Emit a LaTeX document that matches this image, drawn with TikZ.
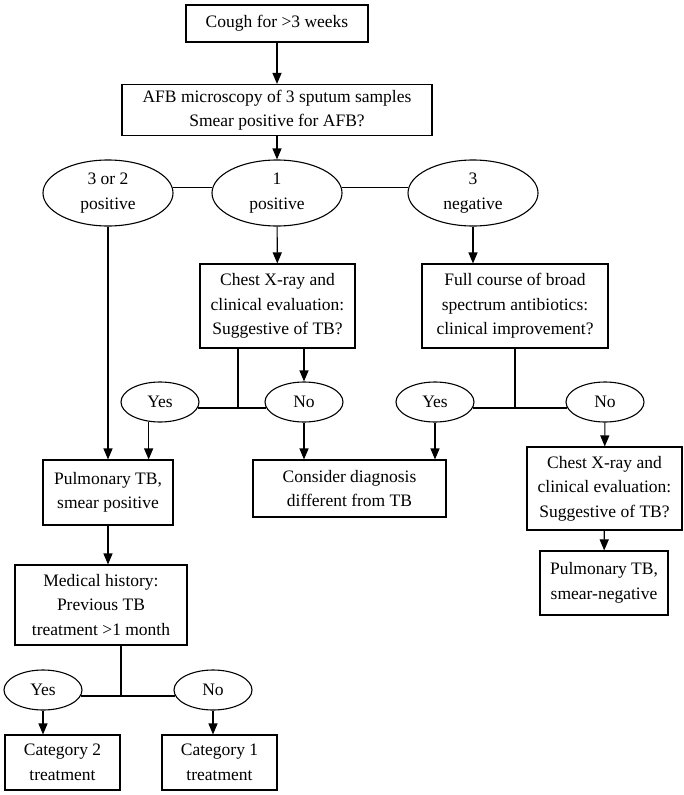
\documentclass[tikz,border=0pt]{standalone}
\usepackage{fontspec}
\setmainfont{Liberation Serif}
\usetikzlibrary{arrows.meta,shapes.geometric}

\tikzset{
	box/.style={draw, line width=1.1pt, align=center, inner sep=0pt},
	oval/.style={draw, line width=1.1pt, ellipse, align=center, inner sep=0pt},
	big/.style={minimum width=130pt, minimum height=66pt},
	small/.style={minimum width=78pt, minimum height=40pt},
}

\begin{document}
\begin{tikzpicture}[x=1pt, y=-1pt, line width=1.1pt, arrows={-Triangle[width=9pt,length=11pt]},
	font=\fontsize{17.5}{24.5}\selectfont]
	\useasboundingbox (0,0) rectangle (684,795);

	\node[box, minimum width=182pt, minimum height=37pt] (Cough) at (277,23.5) {Cough for >3 weeks};
	\node[box, minimum width=310pt, minimum height=51pt] (AFB) at (277,110) {AFB microscopy of 3 sputum samples\\Smear positive for AFB?};

	\node[oval, big] (Pos32) at (108,193) {3 or 2\\positive};
	\node[oval, big] (Pos1) at (277,193) {1\\positive};
	\node[oval, big] (Neg3) at (473,193) {3\\negative};

	\node[box, minimum width=155pt, minimum height=84pt] (Chest) at (277.5,306) {Chest X-ray and\\clinical evaluation:\\Suggestive of TB?};
	\node[box, minimum width=186pt, minimum height=84pt] (Full) at (515,306) {Full course of broad\\spectrum antibiotics:\\clinical improvement?};

	\node[oval, small] (YesA) at (160,402) {Yes};
	\node[oval, small] (NoA) at (304,402) {No};
	\node[oval, small] (YesB) at (435,402) {Yes};
	\node[oval, small] (NoB) at (605,402) {No};

	\node[box, minimum width=130pt, minimum height=65pt] (SmPos) at (108,492.5) {Pulmonary TB,\\smear positive};
	\node[box, minimum width=193pt, minimum height=57pt] (Other) at (349.5,488.5) {Consider diagnosis\\different from TB};
	\node[box, minimum width=155pt, minimum height=83pt] (ChestR) at (604.5,488.5) {Chest X-ray and\\clinical evaluation:\\Suggestive of TB?};
	\node[box, minimum width=128pt, minimum height=64pt] (SmNeg) at (604,583) {Pulmonary TB,\\smear-negative};

	\node[box, minimum width=172pt, minimum height=80pt] (Hist) at (101,605) {Medical history:\\Previous TB\\treatment >1 month};
	\node[oval, small] (YesC) at (43,690) {Yes};
	\node[oval, small] (NoC) at (213,690) {No};
	\node[box, minimum width=115pt, minimum height=55pt] (Cat2) at (62.5,762.5) {Category 2\\treatment};
	\node[box, minimum width=115pt, minimum height=55pt] (Cat1) at (219.5,762.5) {Category 1\\treatment};

	\coordinate (JA) at (238,408);
	\coordinate (JC) at (121,696);

	% top
	\draw (Cough) -- (AFB);
	\draw (AFB) -- (Pos1);
	\draw[-] (Pos32.5) -- (Pos1.175);
	\draw[-] (Pos1.5) -- (Neg3.175);

	% smear results
	\draw (Pos32) -- (SmPos);
	\draw (Pos1) -- (Chest);
	\draw (Neg3) -- (Neg3 |- Full.north);

	% chest x-ray
	\draw[-] (Chest.south -| JA) -- (JA);
	\draw[-] (YesA.-9) -- (NoA.189);
	\draw (Chest.south -| NoA) -- (NoA);
	\draw (YesA.240) -- (YesA.240 |- SmPos.north);
	\draw (NoA) -- (NoA |- Other.north);

	% antibiotics
	\draw[-] (Full.south) -- (Full.south |- YesB.-9);
	\draw[-] (YesB.-9) -- (NoB.189);
	\draw (YesB) -- (YesB |- Other.north);
	\draw (NoB) -- (ChestR);
	\draw (ChestR) -- (SmNeg);

	% history
	\draw (SmPos) -- (SmPos |- Hist.north);
	\draw[-] (Hist.south -| JC) -- (JC);
	\draw[-] (YesC.-9) -- (NoC.189);
	\draw (YesC) -- (YesC |- Cat2.north);
	\draw (NoC) -- (NoC |- Cat1.north);
\end{tikzpicture}
\end{document}
